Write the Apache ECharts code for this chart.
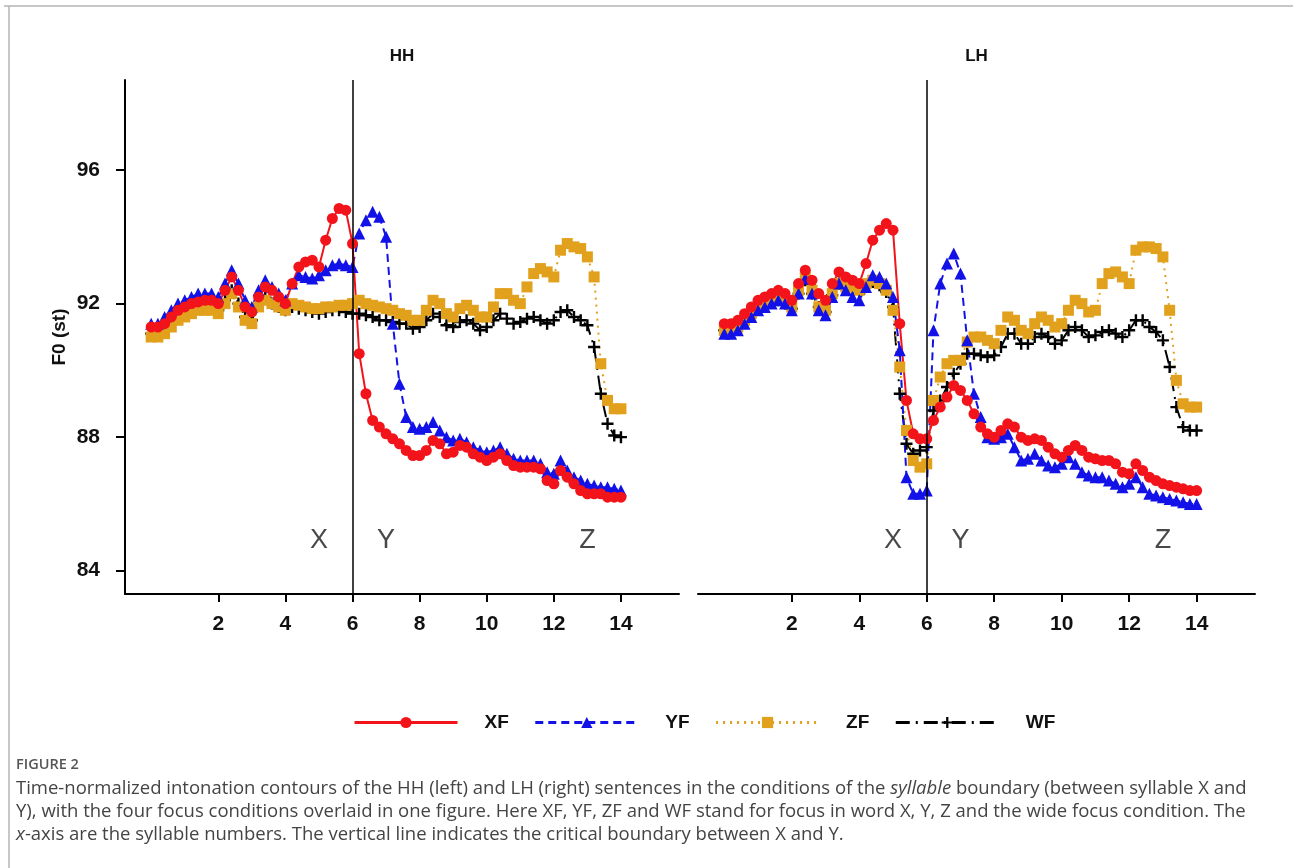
<!DOCTYPE html>
<html>
<head>
<meta charset="utf-8">
<script src="https://cdn.jsdelivr.net/npm/echarts@6/dist/echarts.min.js"></script>
<style>
html,body{margin:0;padding:0;background:#fff;}
#chart{width:1293px;height:868px;}
</style>
</head>
<body>
<div id="chart"></div>
<script>
// ---- data ----
const panelTitles = ['HH', 'LH'];
const seriesNames = ['XF', 'YF', 'ZF', 'WF'];
const xTicks = [2, 4, 6, 8, 10, 12, 14];
const yTicks = [84, 88, 92, 96];
const boundaryX = 6;
const syllableLetters = ['X', 'Y', 'Z'];
const syllableLetterX = [5, 7, 13];
const syllableLetterY = 84.9;

// normalized time points (syllable units)
const timePoints = [
  0.0,0.2,0.4,0.6,0.8,1.0,1.2,1.4,1.6,1.8,
  2.0,2.2,2.4,2.6,2.8,3.0,3.2,3.4,3.6,3.8,
  4.0,4.2,4.4,4.6,4.8,5.0,5.2,5.4,5.6,5.8,
  6.0,6.2,6.4,6.6,6.8,7.0,7.2,7.4,7.6,7.8,
  8.0,8.2,8.4,8.6,8.8,9.0,9.2,9.4,9.6,9.8,
  10.0,10.2,10.4,10.6,10.8,11.0,11.2,11.4,11.6,11.8,
  12.0,12.2,12.4,12.6,12.8,13.0,13.2,13.4,13.6,13.8,
  14.0
];

// HH panel
const hhXF = [
  91.3,91.3,91.4,91.6,91.8,91.9,92.0,92.05,92.1,92.1,
  92.0,92.4,92.8,92.4,91.9,91.75,92.2,92.5,92.4,92.2,
  92.0,92.6,93.1,93.25,93.3,93.1,93.9,94.55,94.85,94.8,
  93.8,90.5,89.3,88.5,88.3,88.1,87.95,87.8,87.6,87.45,
  87.45,87.6,87.9,87.8,87.5,87.55,87.75,87.7,87.5,87.4,
  87.3,87.4,87.5,87.3,87.15,87.1,87.1,87.1,87.05,86.7,
  86.6,87.0,86.8,86.6,86.4,86.3,86.3,86.3,86.2,86.2,
  86.2
];
const hhYF = [
  91.4,91.4,91.6,91.8,92.0,92.1,92.2,92.3,92.3,92.3,
  92.2,92.6,93.0,92.6,92.1,91.9,92.4,92.7,92.5,92.3,
  92.1,92.6,92.85,92.8,92.75,92.85,93.0,93.15,93.2,93.15,
  93.1,94.1,94.5,94.75,94.6,94.0,91.4,89.6,88.6,88.3,
  88.25,88.3,88.45,88.2,88.0,87.9,87.95,87.85,87.7,87.6,
  87.55,87.6,87.7,87.5,87.35,87.3,87.3,87.3,87.2,86.95,
  86.9,87.3,87.0,86.8,86.7,86.6,86.55,86.5,86.5,86.45,
  86.4
];
const hhZF = [
  91.0,91.0,91.1,91.3,91.5,91.6,91.7,91.8,91.8,91.8,
  91.7,92.0,92.3,91.9,91.5,91.4,91.9,92.1,92.0,91.9,
  91.8,92.0,91.95,91.9,91.85,91.85,91.9,91.9,91.95,91.95,
  92.0,92.1,92.0,91.95,91.9,91.85,91.8,91.7,91.65,91.5,
  91.5,91.8,92.1,92.0,91.7,91.6,91.85,91.95,91.8,91.6,
  91.6,91.9,92.3,92.3,92.1,92.0,92.5,92.9,93.05,92.95,
  92.8,93.6,93.8,93.7,93.65,93.4,92.8,90.2,89.1,88.85,
  88.85
];
const hhWF = [
  91.1,91.1,91.2,91.4,91.6,91.7,91.8,91.9,91.9,91.9,
  91.8,92.1,92.4,92.0,91.6,91.5,92.0,92.2,92.0,91.9,
  91.8,91.9,91.85,91.8,91.75,91.7,91.75,91.8,91.8,91.75,
  91.7,91.7,91.65,91.6,91.5,91.5,91.45,91.4,91.4,91.25,
  91.3,91.5,91.7,91.6,91.35,91.3,91.45,91.5,91.4,91.2,
  91.3,91.5,91.7,91.55,91.4,91.45,91.55,91.6,91.5,91.4,
  91.5,91.75,91.8,91.6,91.5,91.35,90.7,89.3,88.4,88.05,
  88.0
];

// LH panel
const lhXF = [
  91.4,91.4,91.5,91.7,91.9,92.1,92.2,92.3,92.4,92.3,
  92.1,92.6,93.0,92.7,92.3,92.1,92.6,92.95,92.8,92.7,
  92.6,93.2,93.9,94.2,94.4,94.2,91.4,89.1,88.1,87.95,
  87.95,88.5,88.9,89.2,89.55,89.4,89.1,88.7,88.3,88.1,
  88.0,88.2,88.4,88.3,88.0,87.9,87.95,87.9,87.7,87.5,
  87.4,87.6,87.75,87.6,87.4,87.35,87.3,87.3,87.2,86.95,
  86.9,87.2,87.0,86.8,86.7,86.6,86.55,86.5,86.45,86.4,
  86.4
];
const lhYF = [
  91.1,91.1,91.2,91.4,91.6,91.8,91.9,92.0,92.1,92.0,
  91.8,92.3,92.75,92.3,91.8,91.65,92.2,92.6,92.4,92.2,
  92.1,92.5,92.85,92.8,92.6,92.2,90.6,86.8,86.3,86.3,
  86.4,91.2,92.6,93.2,93.5,92.9,90.9,89.3,88.6,88.0,
  87.95,88.0,88.1,87.7,87.3,87.35,87.5,87.3,87.15,87.1,
  87.2,87.4,87.2,86.95,86.85,86.8,86.8,86.7,86.6,86.5,
  86.6,86.8,86.5,86.3,86.25,86.2,86.15,86.1,86.05,86.0,
  86.0
];
const lhZF = [
  91.2,91.2,91.3,91.5,91.7,91.9,92.0,92.1,92.2,92.1,
  91.9,92.4,92.8,92.4,91.9,91.8,92.3,92.6,92.5,92.5,
  92.4,92.6,92.7,92.6,92.4,91.8,90.1,88.2,87.3,87.1,
  87.2,89.1,89.8,90.2,90.3,90.3,90.85,91.0,91.0,90.9,
  90.8,91.2,91.6,91.5,91.2,91.1,91.4,91.6,91.5,91.3,
  91.4,91.8,92.1,92.0,91.75,91.8,92.6,92.9,92.95,92.8,
  92.6,93.6,93.7,93.7,93.65,93.4,91.8,89.7,89.0,88.9,
  88.9
];
const lhWF = [
  91.2,91.2,91.3,91.5,91.7,91.85,91.95,92.05,92.1,92.0,
  91.85,92.3,92.7,92.3,91.9,91.75,92.25,92.6,92.45,92.4,
  92.3,92.55,92.65,92.55,92.35,91.9,89.3,87.8,87.5,87.6,
  87.7,88.8,89.1,89.5,89.9,90.2,90.5,90.5,90.45,90.4,
  90.45,90.7,91.1,91.1,90.8,90.8,91.0,91.1,91.0,90.8,
  90.9,91.2,91.3,91.2,91.0,91.05,91.15,91.2,91.1,91.0,
  91.2,91.5,91.5,91.3,91.15,90.9,90.1,88.9,88.3,88.2,
  88.2
];

const panelData = [
  {XF: hhXF, YF: hhYF, ZF: hhZF, WF: hhWF},
  {XF: lhXF, YF: lhYF, ZF: lhZF, WF: lhWF}
];

// ---- styles ----
const PLUS = 'path://M4,0L6,0L6,10L4,10Z M0,4L10,4L10,6L0,6Z';
const styles = {
  XF: {color: '#f2141a', symbol: 'circle', size: 11, type: 'solid'},
  YF: {color: '#1212e8', symbol: 'triangle', size: 12, type: [8, 5]},
  ZF: {color: '#e2a11c', symbol: 'rect', size: 11, type: [2, 5]},
  WF: {color: '#000000', symbol: PLUS, size: 12, type: [14, 6, 2, 6]}
};
const drawOrder = ['WF', 'ZF', 'YF', 'XF'];

const chart = echarts.init(document.getElementById('chart'), null, {renderer: 'canvas'});

const grids = [
  {left: 125, top: 80, width: 554, height: 514},
  {left: 698, top: 80, width: 557, height: 514}
];
const XMIN = -0.78, XMAX = 15.73, YMIN = 83.3, YMAX = 98.7;
const boldSans = 'Liberation Sans, Arial, sans-serif';
const tickFont = {fontFamily: boldSans, fontWeight: 'bold', fontSize: 21, color: '#111'};

const xAxes = grids.map((g, i) => ({
  type: 'value', gridIndex: i, min: XMIN, max: XMAX,
  axisLine: {show: true, onZero: false, lineStyle: {color: '#000', width: 2}},
  axisTick: {show: true, customValues: xTicks, length: 8, lineStyle: {color: '#000', width: 2}},
  axisLabel: Object.assign({show: true, customValues: xTicks, margin: 20}, tickFont),
  splitLine: {show: false}
}));
const yAxes = grids.map((g, i) => ({
  type: 'value', gridIndex: i, min: YMIN, max: YMAX,
  show: i === 0,
  name: i === 0 ? 'F0 (st)' : '',
  nameLocation: 'middle', nameGap: 56, nameMoveOverlap: false,
  nameTextStyle: {fontFamily: boldSans, fontWeight: 'bold', fontSize: 19, color: '#111'},
  axisLine: {show: i === 0, onZero: false, lineStyle: {color: '#000', width: 2}},
  axisTick: {show: i === 0, customValues: yTicks, length: 9, lineStyle: {color: '#000', width: 2}},
  axisLabel: Object.assign({show: i === 0, customValues: yTicks, margin: 25}, tickFont),
  splitLine: {show: false}
}));

const series = [];
panelData.forEach((pd, p) => {
  drawOrder.forEach(name => {
    const s = styles[name];
    series.push({
      name: name, type: 'line', xAxisIndex: p, yAxisIndex: p,
      data: timePoints.map((t, k) => [t, pd[name][k]]),
      symbol: s.symbol, symbolSize: s.size, showAllSymbol: true,
      lineStyle: {color: s.color, width: 2, type: s.type},
      itemStyle: {color: s.color},
      animation: false, silent: true
    });
  });
  // critical boundary line
  series.push({
    type: 'line', xAxisIndex: p, yAxisIndex: p, data: [], z: 10,
    markLine: {
      silent: true, symbol: ['none', 'none'], animation: false,
      label: {show: false},
      lineStyle: {color: '#000', width: 1.5, type: 'solid'},
      data: [{xAxis: boundaryX}]
    }
  });
  // syllable letters
  series.push({
    type: 'scatter', xAxisIndex: p, yAxisIndex: p, symbolSize: 0, z: 11,
    data: syllableLetters.map((l, k) => ({name: l, value: [syllableLetterX[k], syllableLetterY]})),
    label: {show: true, position: 'inside', formatter: '{b}',
      fontFamily: boldSans, fontSize: 27, color: '#1a1a1a'},
    animation: false, silent: true
  });
});

const captionFont = 'Open Sans, Lato, sans-serif';
const option = {
  backgroundColor: '#ffffff',
  animation: false,
  title: panelTitles.map((t, i) => ({
    text: t, left: grids[i].left + grids[i].width / 2, top: 48, textAlign: 'center', padding: 0,
    textStyle: {fontFamily: boldSans, fontWeight: 'bold', fontSize: 17, color: '#111'}
  })),
  legend: {
    data: seriesNames, left: 353, top: 713, padding: 0,
    itemWidth: 103, itemHeight: 14, itemGap: 25,
    lineStyle: {width: 3},
    textStyle: {fontFamily: boldSans, fontWeight: 'bold', fontSize: 19, color: '#111', padding: [0, 0, 0, 22]},
    selectedMode: false
  },
  grid: grids,
  xAxis: xAxes,
  yAxis: yAxes,
  series: series,
  graphic: [
    {type: 'line', shape: {x1: 4, y1: 6, x2: 1293, y2: 6}, style: {stroke: '#b5b5b5', lineWidth: 1.5}},
    {type: 'line', shape: {x1: 9, y1: 6, x2: 9, y2: 868}, style: {stroke: '#b5b5b5', lineWidth: 1.5}},
    {type: 'text', left: 16, top: 757, style: {text: 'FIGURE 2', fontFamily: captionFont, fontSize: 14.5, fontWeight: 600, fill: '#555'}},
    {type: 'text', left: 16, top: 777, style: {
      text: 'Time-normalized intonation contours of the HH (left) and LH (right) sentences in the conditions of the {i|syllable} boundary (between syllable X and\nY), with the four focus conditions overlaid in one figure. Here XF, YF, ZF and WF stand for focus in word X, Y, Z and the wide focus condition. The\n{i|x}-axis are the syllable numbers. The vertical line indicates the critical boundary between X and Y.',
      fontFamily: captionFont, fontSize: 18.5, fill: '#444', lineHeight: 23,
      rich: {i: {fontStyle: 'italic', fontFamily: captionFont, fontSize: 18.5, fill: '#444', lineHeight: 23}}
    }}
  ]
};
chart.setOption(option);
</script>
</body>
</html>
